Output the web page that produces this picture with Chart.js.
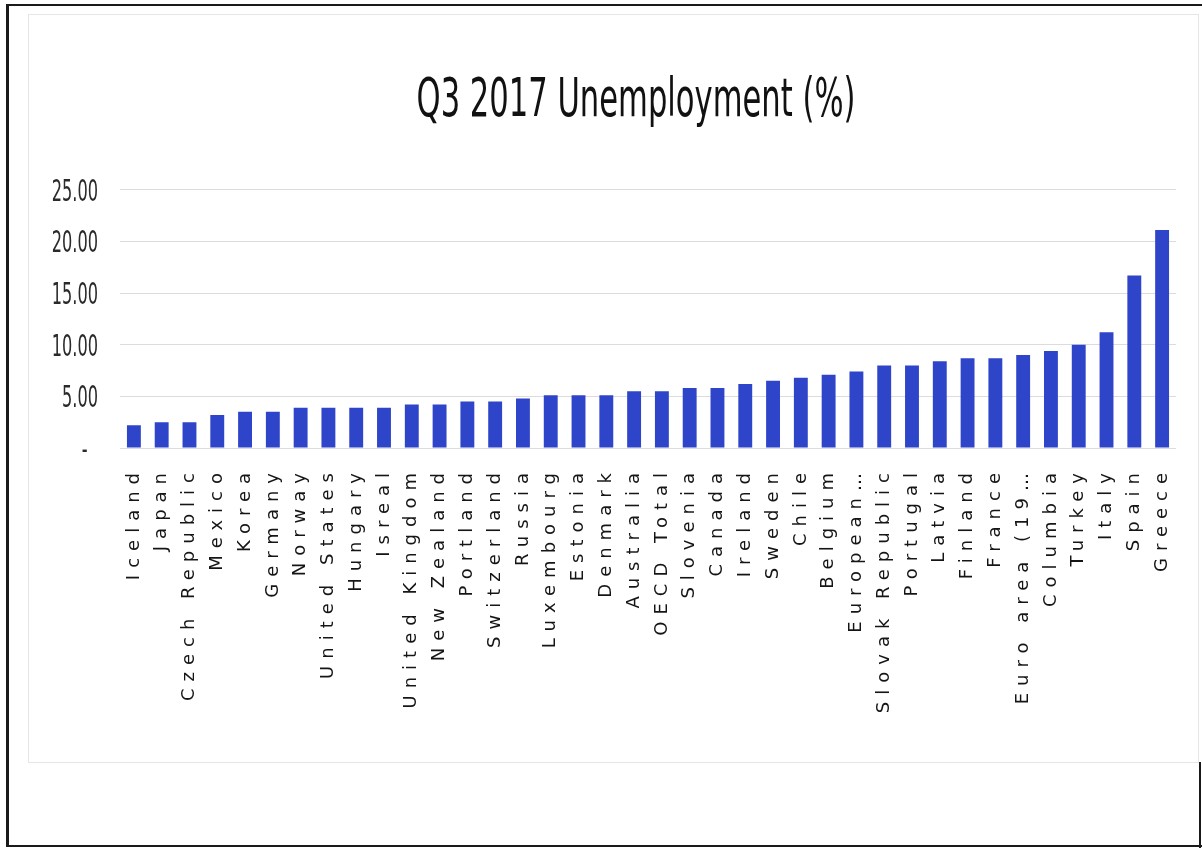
<!DOCTYPE html>
<html>
<head>
<meta charset="utf-8">
<script src="https://cdn.jsdelivr.net/npm/chart.js@4"></script>
<style>
  html, body { margin: 0; padding: 0; background: #fff; }
  #page { position: relative; width: 1202px; height: 848px; overflow: hidden; }
  #frame { position: absolute; left: 6px; top: 4px; width: 1196px; height: 843px; box-sizing: border-box;
           border-left: 3px solid #1a1a1a; border-top: 2px solid #1a1a1a; border-bottom: 2px solid #1a1a1a; }
  #rightEdge { position: absolute; left: 1199px; top: 762px; width: 2px; height: 86px; background: #1a1a1a; }
  #inner { position: absolute; left: 28px; top: 14px; width: 1171px; height: 749px; box-sizing: border-box;
           border: 1px solid #e6e6e6; }
  canvas { position: absolute; left: 0; top: 0; }
</style>
</head>
<body>
<div id="page">
  <div id="frame"></div>
  <div id="rightEdge"></div>
  <div id="inner"></div>
  <canvas id="barChart" width="1202" height="848"></canvas>
</div>
<script>
var countries = ['Iceland', 'Japan', 'Czech Republic', 'Mexico', 'Korea', 'Germany', 'Norway',
    'United States', 'Hungary', 'Isreal', 'United Kingdom', 'New Zealand', 'Portland',
    'Switzerland', 'Russia', 'Luxembourg', 'Estonia', 'Denmark', 'Australia', 'OECD Total',
    'Slovenia', 'Canada', 'Ireland', 'Sweden', 'Chile', 'Belgium', 'European\u2026',
    'Slovak Republic', 'Portugal', 'Latvia', 'Finland', 'France', 'Euro area (19\u2026',
    'Columbia', 'Turkey', 'Italy', 'Spain', 'Greece'];

var unemployment = [2.2, 2.5, 2.5, 3.2, 3.5, 3.5, 3.9,
    3.9, 3.9, 3.9, 4.2, 4.2, 4.5,
    4.5, 4.8, 5.1, 5.1, 5.1, 5.5, 5.5,
    5.8, 5.8, 6.2, 6.5, 6.8, 7.1, 7.4,
    8.0, 8.0, 8.4, 8.7, 8.7, 9.0,
    9.4, 10.0, 11.2, 16.7, 21.1];

var yTicks = [0, 5, 10, 15, 20, 25];

var narrow = "'Liberation Sans Narrow', 'DejaVu Sans Condensed', sans-serif";

// the scan squeezes the title and y labels and spreads the x labels out
var scanLook = {
    id: 'scanLook',
    beforeDraw: function (chart) {
        var xs = chart.scales.x;
        if (xs && !xs._patched) {
            var origX = xs.drawLabels;
            xs.drawLabels = function (area) {
                var c = this.ctx;
                c.letterSpacing = '7px';
                origX.call(this, area);
                c.letterSpacing = '0px';
            };
            xs._patched = true;
        }
        var ys = chart.scales.y;
        if (ys && !ys._patched) {
            var origY = ys.drawLabels;
            ys.drawLabels = function (area) {
                var c = this.ctx;
                var ax = this.right - this.options.ticks.padding;
                c.save();
                c.translate(ax, 3);
                c.scale(0.6, 1);
                c.translate(-ax, 0);
                origY.call(this, area);
                c.restore();
            };
            ys._patched = true;
        }
        var tb = chart.titleBlock;
        if (tb && !tb._patched) {
            var origT = tb.draw;
            tb.draw = function () {
                var c = this.ctx;
                var cx = 636;
                this.left = cx - 550;
                this.right = cx + 550;
                c.save();
                c.translate(cx, 0);
                c.scale(0.63, 1);
                c.translate(-cx, 0);
                origT.call(this);
                c.restore();
            };
            tb._patched = true;
        }
    }
};

document.addEventListener('DOMContentLoaded', function () {
    var ctx = document.getElementById('barChart').getContext('2d');
    new Chart(ctx, {
        type: 'bar',
        data: {
            labels: countries,
            datasets: [{
                label: 'Unemployment (%)',
                data: unemployment,
                backgroundColor: '#2f45c9',
                borderWidth: 0,
                categoryPercentage: 1.0,
                barPercentage: 0.5
            }]
        },
        plugins: [scanLook],
        options: {
            responsive: false,
            animation: false,
            layout: { padding: { left: 4, right: 23, top: 0, bottom: 0 } },
            plugins: {
                legend: { display: false },
                tooltip: { enabled: false },
                title: {
                    display: true,
                    text: 'Q3 2017 Unemployment (%)',
                    color: '#111',
                    font: { family: narrow, size: 54, weight: 'normal' },
                    padding: { top: 70, bottom: 55 }
                }
            },
            scales: {
                x: {
                    grid: { display: false, drawTicks: false },
                    border: { display: false },
                    ticks: {
                        autoSkip: false,
                        minRotation: 90,
                        maxRotation: 90,
                        padding: 18,
                        color: '#151515',
                        font: { family: "'DejaVu Sans', sans-serif", size: 18 }
                    },
                    afterFit: function (scale) { scale.height = 400; }
                },
                y: {
                    min: 0,
                    max: 25,
                    afterBuildTicks: function (scale) {
                        scale.ticks = yTicks.map(function (v) { return { value: v }; });
                    },
                    grid: { color: '#dcdcdc', lineWidth: 1, drawTicks: false },
                    border: { display: false },
                    ticks: {
                        padding: 22,
                        color: '#2a2a2a',
                        font: { family: narrow, size: 30 },
                        callback: function (v) { return v === 0 ? '-  ' : v.toFixed(2); }
                    },
                    afterFit: function (scale) { scale.width = 116; }
                }
            }
        }
    });
});
</script>
</body>
</html>
